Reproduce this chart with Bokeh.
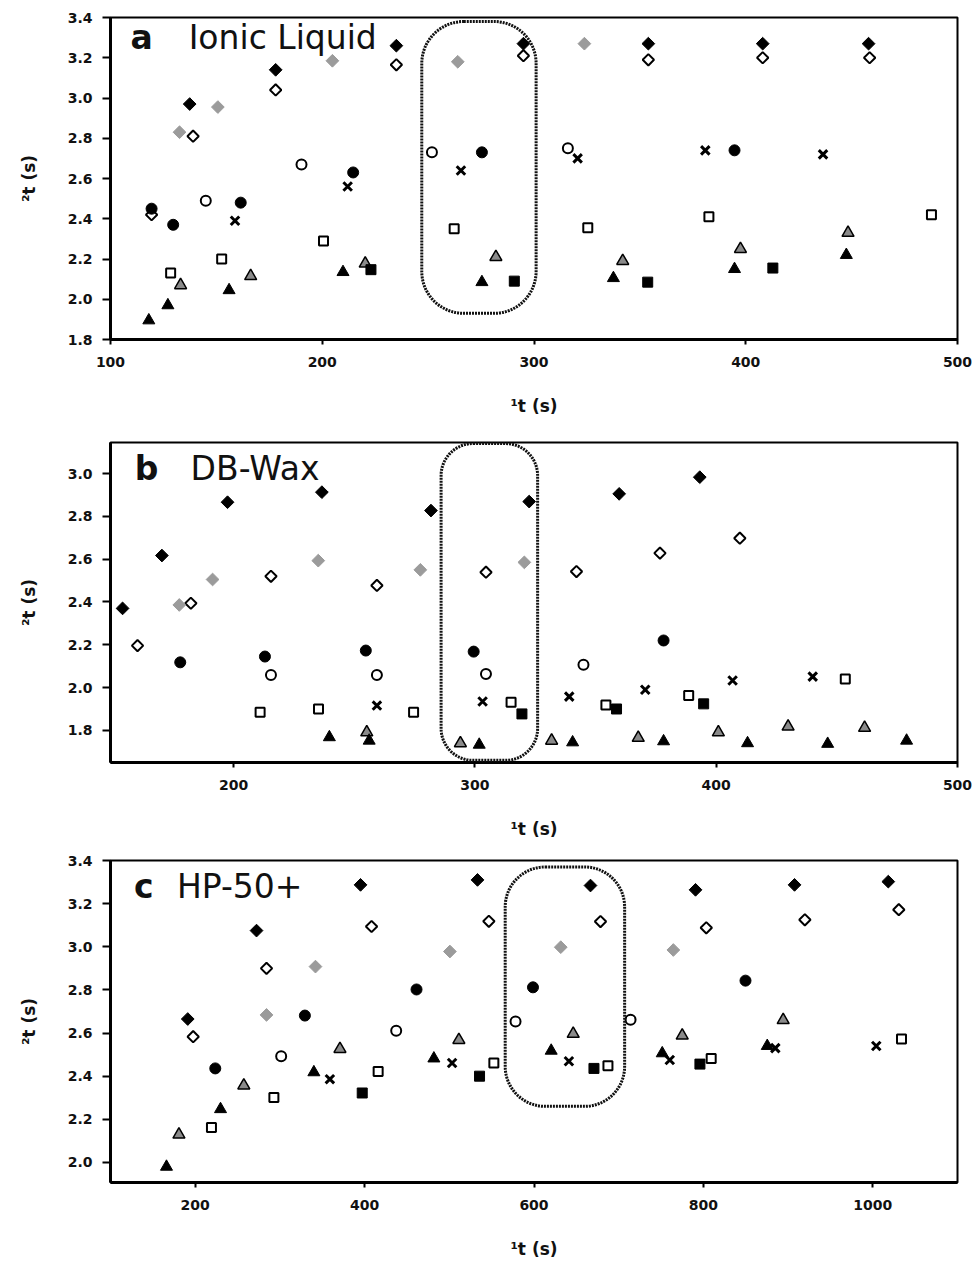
import math
from bokeh.plotting import figure
from bokeh.models import BoxAnnotation, Label, FixedTicker, NumeralTickFormatter, Range1d
from bokeh.layouts import column
from bokeh.embed import file_html
from bokeh.resources import INLINE

FONT = "DejaVu Sans"

# ---------------- Panel a : Ionic Liquid ----------------
a_black_diamond_x = [137.4, 178, 235, 295, 354, 408, 458]
a_black_diamond_y = [2.97, 3.14, 3.26, 3.27, 3.27, 3.27, 3.27]
a_gray_diamond_x = [132.6, 150.7, 204.8, 264, 323.8]
a_gray_diamond_y = [2.83, 2.955, 3.185, 3.18, 3.27]
a_open_diamond_x = [119.4, 139, 178, 235, 295, 354, 408, 458.5]
a_open_diamond_y = [2.42, 2.81, 3.04, 3.165, 3.21, 3.19, 3.2, 3.2]
a_black_circle_x = [119.4, 129.6, 161.5, 214.6, 275.4, 394.7]
a_black_circle_y = [2.45, 2.37, 2.48, 2.63, 2.73, 2.74]
a_open_circle_x = [145, 190.2, 251.8, 316]
a_open_circle_y = [2.49, 2.67, 2.73, 2.75]
a_cross_x = [158.8, 212, 265.5, 320.6, 380.9, 436.5]
a_cross_y = [2.39, 2.56, 2.64, 2.70, 2.74, 2.72]
a_open_square_x = [128.4, 152.5, 200.6, 262.3, 325.4, 382.6, 487.7]
a_open_square_y = [2.13, 2.20, 2.29, 2.35, 2.355, 2.41, 2.42]
a_black_square_x = [223, 290.7, 353.7, 412.8]
a_black_square_y = [2.147, 2.09, 2.085, 2.155]
a_black_triangle_x = [118.1, 127.1, 156, 209.8, 275.4, 337.5, 394.7, 447.5]
a_black_triangle_y = [1.895, 1.97, 2.045, 2.135, 2.085, 2.105, 2.15, 2.22]
a_gray_triangle_x = [133.1, 166.2, 220.3, 282, 341.9, 397.5, 448.3]
a_gray_triangle_y = [2.07, 2.115, 2.177, 2.21, 2.19, 2.25, 2.33]
a_x_ticks = [100, 200, 300, 400, 500]
a_y_ticks = [1.8, 2.0, 2.2, 2.4, 2.6, 2.8, 3.0, 3.2, 3.4]
a_x_range = (100, 500)
a_y_range = (1.8, 3.4)
a_box = dict(left=247, right=301, top=3.38, bottom=1.93)

# ---------------- Panel b : DB-Wax ----------------
b_black_diamond_x = [154, 170.3, 197.5, 236.6, 281.8, 322.5, 359.8, 393.2]
b_black_diamond_y = [2.37, 2.617, 2.866, 2.913, 2.827, 2.869, 2.905, 2.983]
b_gray_diamond_x = [177.5, 191.3, 235.1, 277.4, 320.5]
b_gray_diamond_y = [2.386, 2.505, 2.593, 2.55, 2.585]
b_open_diamond_x = [160.2, 182.3, 215.5, 259.4, 304.6, 342.1, 376.7, 409.8]
b_open_diamond_y = [2.196, 2.394, 2.52, 2.477, 2.539, 2.542, 2.628, 2.698]
b_black_circle_x = [177.9, 213, 254.8, 299.5, 378.2]
b_black_circle_y = [2.118, 2.145, 2.173, 2.168, 2.22]
b_open_circle_x = [215.5, 259.4, 304.6, 345]
b_open_circle_y = [2.059, 2.059, 2.064, 2.107]
b_cross_x = [259.4, 303.2, 339.1, 370.6, 406.8, 440]
b_cross_y = [1.916, 1.935, 1.958, 1.99, 2.033, 2.051]
b_open_square_x = [211, 235.2, 274.6, 315, 354.3, 388.6, 453.5]
b_open_square_y = [1.885, 1.90, 1.885, 1.931, 1.919, 1.963, 2.04]
b_black_square_x = [319.5, 358.7, 394.8]
b_black_square_y = [1.877, 1.90, 1.924]
b_black_triangle_x = [239.7, 256.2, 301.8, 340.5, 378.2, 413, 446.2, 478.9]
b_black_triangle_y = [1.768, 1.752, 1.733, 1.744, 1.749, 1.74, 1.737, 1.752]
b_gray_triangle_x = [255.2, 294, 331.8, 367.7, 400.9, 429.8, 461.5]
b_gray_triangle_y = [1.791, 1.74, 1.752, 1.765, 1.791, 1.818, 1.812]
b_x_ticks = [200, 300, 400, 500]
b_y_ticks = [1.8, 2.0, 2.2, 2.4, 2.6, 2.8, 3.0]
b_x_range = (149, 500)
b_y_range = (1.65, 3.145)
b_box = dict(left=286, right=326, top=3.14, bottom=1.66)

# ---------------- Panel c : HP-50+ ----------------
c_black_diamond_x = [191.2, 272.4, 395.2, 533.3, 666.7, 790.7, 907.6, 1018.3]
c_black_diamond_y = [2.665, 3.075, 3.287, 3.31, 3.284, 3.264, 3.287, 3.302]
c_gray_diamond_x = [284.2, 342, 500.7, 631.6, 764.5]
c_gray_diamond_y = [2.684, 2.908, 2.978, 2.998, 2.985]
c_open_diamond_x = [197.6, 284.2, 408.2, 546.7, 678.5, 803.4, 919.8, 1030.7]
c_open_diamond_y = [2.583, 2.90, 3.094, 3.118, 3.117, 3.088, 3.125, 3.172]
c_black_circle_x = [223.7, 329.5, 461.3, 598.8, 849.7]
c_black_circle_y = [2.436, 2.681, 2.802, 2.812, 2.843]
c_open_circle_x = [301.5, 437.3, 578.2, 714]
c_open_circle_y = [2.492, 2.611, 2.654, 2.662]
c_cross_x = [359, 503.3, 641.2, 760.3, 884.9, 1004.1]
c_cross_y = [2.386, 2.461, 2.469, 2.475, 2.53, 2.54]
c_open_square_x = [219.2, 292.9, 416, 552.6, 687.3, 809.2, 1033.9]
c_open_square_y = [2.162, 2.301, 2.422, 2.461, 2.448, 2.482, 2.572]
c_black_square_x = [397.2, 535.7, 670.8, 795.9]
c_black_square_y = [2.322, 2.40, 2.436, 2.456]
c_black_triangle_x = [166.1, 229.9, 340.1, 481.8, 620.3, 751.4, 875.4]
c_black_triangle_y = [1.98, 2.247, 2.418, 2.482, 2.518, 2.506, 2.54]
c_gray_triangle_x = [180.8, 257.4, 370.9, 511.3, 646.3, 775, 894.2]
c_gray_triangle_y = [2.129, 2.357, 2.526, 2.568, 2.596, 2.588, 2.66]
c_x_ticks = [200, 400, 600, 800, 1000]
c_y_ticks = [2.0, 2.2, 2.4, 2.6, 2.8, 3.0, 3.2, 3.4]
c_x_range = (100, 1100)
c_y_range = (1.907, 3.4)
c_box = dict(left=566, right=707, top=3.37, bottom=2.26)

X_LABEL = "¹t (s)"
Y_LABEL = "²t (s)"

STYLES = {
    "black_diamond": dict(marker="square", size=9, angle=math.pi / 4, fill_color="black", line_color="black", line_width=1),
    "gray_diamond": dict(marker="square", size=9, angle=math.pi / 4, fill_color="#9b9b9b", line_color="#9b9b9b", line_width=1),
    "open_diamond": dict(marker="square", size=8, angle=math.pi / 4, fill_color="white", line_color="black", line_width=2),
    "black_circle": dict(marker="circle", size=11, fill_color="black", line_color="black", line_width=1),
    "open_circle": dict(marker="circle", size=10, fill_color="white", line_color="black", line_width=2),
    "cross": dict(marker="x", size=12, line_color="black", line_width=3),
    "open_square": dict(marker="square", size=9, fill_color="white", line_color="black", line_width=2),
    "black_square": dict(marker="square", size=10, fill_color="black", line_color="black", line_width=1),
    "black_triangle": dict(marker="triangle", size=12, fill_color="black", line_color="black", line_width=1),
    "gray_triangle": dict(marker="triangle", size=12, fill_color="#8a8a8a", line_color="black", line_width=1.5),
}


def make_panel(series, x_range, y_range, x_ticks, y_ticks, box, radius, letter, name,
               letter_xy, name_xy, height, top, bottom, y_fmt="0.0"):
    p = figure(width=977, height=height, x_range=Range1d(*x_range), y_range=Range1d(*y_range),
               output_backend="svg", toolbar_location=None,
               min_border_left=110, min_border_right=20, min_border_top=top, min_border_bottom=bottom)
    p.grid.visible = False
    p.background_fill_color = "white"
    p.border_fill_color = "white"
    p.outline_line_color = "black"
    p.outline_line_width = 2
    for key, (xs, ys) in series.items():
        p.scatter(xs, ys, **STYLES[key])
    p.add_layout(BoxAnnotation(left=box["left"], right=box["right"], top=box["top"], bottom=box["bottom"],
                               fill_alpha=0, line_color="#111111", line_alpha=1.0, line_width=3,
                               line_dash="2 1", border_radius=radius))
    p.add_layout(Label(x=letter_xy[0], y=letter_xy[1], text=letter, text_font=FONT, text_font_size="33px",
                       text_font_style="bold", text_color="#111111", text_baseline="alphabetic"))
    p.add_layout(Label(x=name_xy[0], y=name_xy[1], text=name, text_font=FONT, text_font_size="33px",
                       text_color="#111111", text_baseline="alphabetic"))
    p.xaxis.ticker = FixedTicker(ticks=x_ticks)
    p.yaxis.ticker = FixedTicker(ticks=y_ticks)
    p.yaxis.formatter = NumeralTickFormatter(format=y_fmt)
    p.xaxis.formatter = NumeralTickFormatter(format="0")
    for ax in (p.xaxis[0], p.yaxis[0]):
        ax.axis_line_width = 3
        ax.axis_line_color = "black"
        ax.major_tick_line_width = 2
        ax.major_tick_line_color = "black"
        ax.major_tick_in = 0
        ax.minor_tick_line_color = None
        ax.major_label_text_font = FONT
        ax.major_label_text_font_size = "14px"
        ax.major_label_text_font_style = "bold"
        ax.major_label_text_color = "#111111"
        ax.axis_label_text_font = FONT
        ax.axis_label_text_font_size = "17px"
        ax.axis_label_text_font_style = "bold"
        ax.axis_label_text_color = "#111111"
    p.xaxis.major_tick_out = 5
    p.yaxis.major_tick_out = 8
    p.xaxis.axis_label = X_LABEL
    p.yaxis.axis_label = Y_LABEL
    p.xaxis.major_label_standoff = 12
    p.xaxis.axis_label_standoff = 26
    p.yaxis.major_label_standoff = 10
    p.yaxis.axis_label_standoff = 26
    return p


pa = make_panel({
    "gray_triangle": (a_gray_triangle_x, a_gray_triangle_y),
    "black_triangle": (a_black_triangle_x, a_black_triangle_y),
    "black_square": (a_black_square_x, a_black_square_y),
    "open_square": (a_open_square_x, a_open_square_y),
    "cross": (a_cross_x, a_cross_y),
    "open_circle": (a_open_circle_x, a_open_circle_y),
    "open_diamond": (a_open_diamond_x, a_open_diamond_y),
    "black_circle": (a_black_circle_x, a_black_circle_y),
    "gray_diamond": (a_gray_diamond_x, a_gray_diamond_y),
    "black_diamond": (a_black_diamond_x, a_black_diamond_y),
}, a_x_range, a_y_range, a_x_ticks, a_y_ticks, a_box, 42, "a", "Ionic Liquid",
    (109.5, 3.30), (136.9, 3.30), 420, 17, 81)

pb = make_panel({
    "gray_triangle": (b_gray_triangle_x, b_gray_triangle_y),
    "black_triangle": (b_black_triangle_x, b_black_triangle_y),
    "black_square": (b_black_square_x, b_black_square_y),
    "open_square": (b_open_square_x, b_open_square_y),
    "cross": (b_cross_x, b_cross_y),
    "open_circle": (b_open_circle_x, b_open_circle_y),
    "open_diamond": (b_open_diamond_x, b_open_diamond_y),
    "black_circle": (b_black_circle_x, b_black_circle_y),
    "gray_diamond": (b_gray_diamond_x, b_gray_diamond_y),
    "black_diamond": (b_black_diamond_x, b_black_diamond_y),
}, b_x_range, b_y_range, b_x_ticks, b_y_ticks, b_box, 32, "b", "DB-Wax",
    (159, 3.023), (182.2, 3.023), 425, 22, 83)

pc = make_panel({
    "gray_triangle": (c_gray_triangle_x, c_gray_triangle_y),
    "black_triangle": (c_black_triangle_x, c_black_triangle_y),
    "black_square": (c_black_square_x, c_black_square_y),
    "open_square": (c_open_square_x, c_open_square_y),
    "cross": (c_cross_x, c_cross_y),
    "open_circle": (c_open_circle_x, c_open_circle_y),
    "open_diamond": (c_open_diamond_x, c_open_diamond_y),
    "black_circle": (c_black_circle_x, c_black_circle_y),
    "gray_diamond": (c_gray_diamond_x, c_gray_diamond_y),
    "black_diamond": (c_black_diamond_x, c_black_diamond_y),
}, c_x_range, c_y_range, c_x_ticks, c_y_ticks, c_box, 40, "c", "HP-50+",
    (127.6, 3.28), (178.4, 3.28), 423, 15, 86)

layout = column(pa, pb, pc, spacing=0)
open("out.html", "w").write(file_html(layout, INLINE))
